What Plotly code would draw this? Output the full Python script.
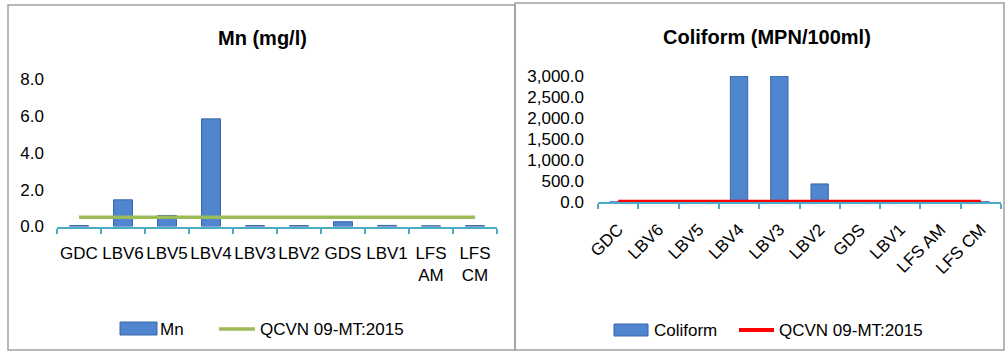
import plotly.graph_objects as go

# Sampling sites
sites = ["GDC", "LBV6", "LBV5", "LBV4", "LBV3", "LBV2", "GDS", "LBV1", "LFS AM", "LFS CM"]
site_labels_mn = ["GDC", "LBV6", "LBV5", "LBV4", "LBV3", "LBV2", "GDS", "LBV1", "LFS<br>AM", "LFS<br>CM"]

# Manganese (mg/l)
mn_values = [0.05, 1.45, 0.6, 5.85, 0.05, 0.05, 0.26, 0.06, 0.04, 0.05]
mn_limit = [0.5] * len(sites)

# Coliform (MPN/100ml)
coliform_values = [0, 12, 10, 3000, 3000, 430, 0, 10, 2, 2]
coliform_limit = [3] * len(sites)

W, H = 1005, 351
FONT = "Arial, Liberation Sans, sans-serif"
TXT = 17
BAR_FILL = "#4f86cf"
BAR_EDGE = "#3a66a8"
AXIS_BLUE = "#4bacc6"


def px(x):
    return x / W


def py(y):
    return (H - y) / H


fig = go.Figure()

# Left panel: Mn
fig.add_trace(go.Bar(
    x=site_labels_mn, y=mn_values, name="Mn",
    marker=dict(color=BAR_FILL, line=dict(color=BAR_EDGE, width=1)),
    xaxis="x", yaxis="y", showlegend=False,
))
fig.add_trace(go.Scatter(
    x=site_labels_mn, y=mn_limit, name="QCVN 09-MT:2015", mode="lines",
    line=dict(color="#9bbb59", width=3.5),
    xaxis="x", yaxis="y", showlegend=False,
))

# Right panel: Coliform
fig.add_trace(go.Bar(
    x=sites, y=coliform_values, name="Coliform",
    marker=dict(color=BAR_FILL, line=dict(color=BAR_EDGE, width=1)),
    xaxis="x2", yaxis="y2", showlegend=False,
))
fig.add_trace(go.Scatter(
    x=sites, y=coliform_limit, name="QCVN 09-MT:2015", mode="lines",
    line=dict(color="#ff0000", width=4),
    xaxis="x2", yaxis="y2", showlegend=False,
))

xaxis_common = dict(
    type="category", showline=True, linecolor=AXIS_BLUE, linewidth=2,
    ticks="outside", ticklen=5, tickwidth=2, tickcolor=AXIS_BLUE,
    tickson="boundaries", showgrid=False, zeroline=False, automargin=False,
    tickfont=dict(family=FONT, size=TXT, color="#000"),
)
yaxis_common = dict(
    showline=False, showgrid=False, zeroline=False, ticks="", automargin=False,
    tickfont=dict(family=FONT, size=TXT, color="#000"),
)

fig.update_layout(
    width=W, height=H,
    margin=dict(l=0, r=0, t=0, b=0),
    paper_bgcolor="white", plot_bgcolor="white",
    showlegend=False,
    bargap=0.57,
    xaxis=dict(**xaxis_common, domain=[px(57), px(497)], anchor="y",
               tickangle=0, ticklabelstandoff=10),
    yaxis=dict(**yaxis_common, domain=[py(226.5), py(79.3)], anchor="x",
               range=[0, 8], dtick=2, tickformat=".1f", ticklabelstandoff=12),
    xaxis2=dict(**xaxis_common, domain=[px(598), px(1001)], anchor="y2",
                tickangle=-45, ticklabelstandoff=9),
    yaxis2=dict(**yaxis_common, domain=[py(202), py(76)], anchor="x2",
                range=[0, 3000], dtick=500, tickformat=",.1f", ticklabelstandoff=13),
)

shapes = []
# Panel frames
for x0, y0, x1, y1 in [(8, 5, 515, 350), (515, 3, 1004, 350)]:
    shapes.append(dict(type="rect", xref="paper", yref="paper",
                       x0=px(x0), y0=py(y1), x1=px(x1), y1=py(y0),
                       line=dict(color="#a0a0a0", width=1.5), fillcolor="rgba(0,0,0,0)"))

# Legend keys
shapes += [
    dict(type="rect", xref="paper", yref="paper", x0=px(120), x1=px(157), y0=py(335), y1=py(322),
         fillcolor=BAR_FILL, line=dict(color=BAR_EDGE, width=1)),
    dict(type="line", xref="paper", yref="paper", x0=px(219), x1=px(255), y0=py(329), y1=py(329),
         line=dict(color="#9bbb59", width=3.5)),
    dict(type="rect", xref="paper", yref="paper", x0=px(614), x1=px(648), y0=py(336), y1=py(324),
         fillcolor=BAR_FILL, line=dict(color=BAR_EDGE, width=1)),
    dict(type="line", xref="paper", yref="paper", x0=px(739), x1=px(774), y0=py(330), y1=py(330),
         line=dict(color="#ff0000", width=4)),
]
fig.update_layout(shapes=shapes)

annotations = [
    dict(text="<b>Mn (mg/l)</b>", x=px(262), y=py(38), font=dict(family=FONT, size=20, color="#000"),
         xanchor="center", yanchor="middle"),
    dict(text="<b>Coliform (MPN/100ml)</b>", x=px(767), y=py(37), font=dict(family=FONT, size=20, color="#000"),
         xanchor="center", yanchor="middle"),
    dict(text="Mn", x=px(158), y=py(329), xanchor="left", yanchor="middle",
         font=dict(family=FONT, size=TXT, color="#000")),
    dict(text="QCVN 09-MT:2015", x=px(258), y=py(329), xanchor="left", yanchor="middle",
         font=dict(family=FONT, size=TXT, color="#000")),
    dict(text="Coliform", x=px(652), y=py(330), xanchor="left", yanchor="middle",
         font=dict(family=FONT, size=TXT, color="#000")),
    dict(text="QCVN 09-MT:2015", x=px(777), y=py(330), xanchor="left", yanchor="middle",
         font=dict(family=FONT, size=TXT, color="#000")),
]
for a in annotations:
    a.update(xref="paper", yref="paper", showarrow=False)
fig.update_layout(annotations=annotations)

fig.write_html("out.html")
